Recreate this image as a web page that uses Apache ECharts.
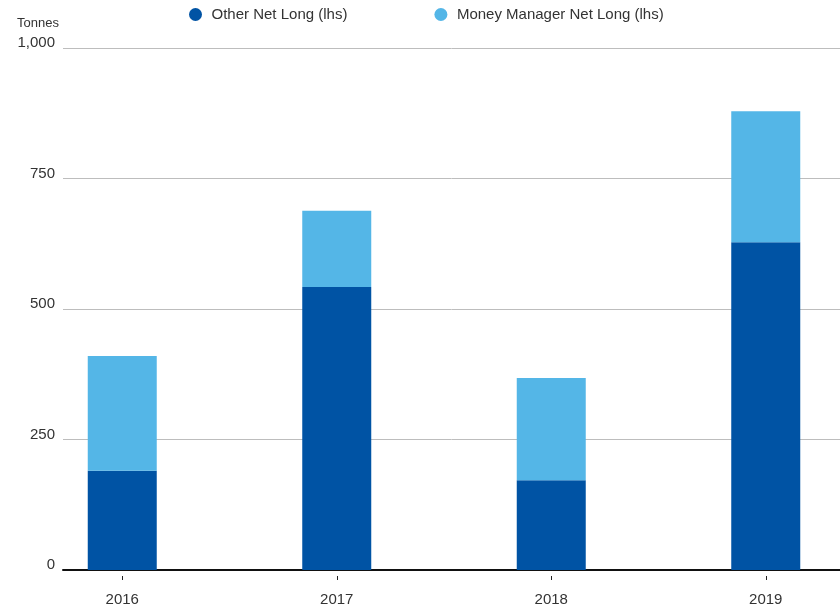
<!DOCTYPE html>
<html>
<head>
<meta charset="utf-8">
<script src="https://cdn.jsdelivr.net/npm/echarts@6/dist/echarts.min.js"></script>
<style>
  html, body { margin: 0; padding: 0; background: #fff; }
  #chart { width: 840px; height: 607px; }
</style>
</head>
<body>
<div id="chart"></div>
<script>
// data
const years = ["2016", "2017", "2018", "2019"];
const otherNetLong = [190, 542, 172, 628];
const moneyManagerNetLong = [220, 146, 196, 251];
const yTicks = [0, 250, 500, 750, 1000];

const chart = echarts.init(document.getElementById("chart"));
const font = "'Liberation Sans', Helvetica, Arial, sans-serif";

chart.setOption({
  animation: false,
  title: {
    text: "Tonnes",
    left: 12,
    top: 12,
    textStyle: { fontFamily: font, fontSize: 13, fontWeight: "normal", color: "#333" }
  },
  legend: {
    data: ["Other Net Long (lhs)", "Money Manager Net Long (lhs)"],
    left: 184,
    top: 2,
    icon: "circle",
    itemWidth: 22,
    itemHeight: 13,
    itemGap: 87,
    textStyle: { fontFamily: font, fontSize: 15, color: "#333" }
  },
  grid: [
    // axis frame with gridlines
    { left: 63, right: 0, top: 48, bottom: 37, outerBoundsMode: "none" },
    // bars, wider band so bars sit where they do in the picture
    { left: 15, right: -33, top: 48, bottom: 37, outerBoundsMode: "none" },
    // ticks and year labels, a little below the axis line
    { left: 15, right: -33, top: 560, bottom: 31, outerBoundsMode: "none" }
  ],
  xAxis: [
    {
      type: "category",
      gridIndex: 0,
      data: years,
      axisLine: { lineStyle: { color: "#111", width: 2 } },
      axisTick: { show: false },
      axisLabel: { show: false }
    },
    {
      type: "category",
      gridIndex: 1,
      data: years,
      show: false
    },
    {
      type: "category",
      gridIndex: 2,
      data: years,
      axisLine: { show: false },
      axisTick: { show: true, alignWithLabel: true, length: 4, lineStyle: { color: "#222", width: 1 } },
      axisLabel: { margin: 16, fontFamily: font, fontSize: 15, color: "#333" }
    }
  ],
  yAxis: [
    {
      type: "value",
      gridIndex: 0,
      min: 0,
      max: 1000,
      interval: 250,
      axisLine: { show: false },
      axisTick: { show: false },
      splitLine: { lineStyle: { color: "#bdbdbd", width: 1 } },
      axisLabel: {
        margin: 8,
        verticalAlign: "bottom",
        lineHeight: 10,
        fontFamily: font,
        fontSize: 15,
        color: "#333",
        formatter: v => yTicks.includes(v) ? v.toLocaleString("en-US") : ""
      }
    },
    { type: "value", gridIndex: 1, min: 0, max: 1000, show: false },
    { type: "value", gridIndex: 2, show: false }
  ],
  series: [
    {
      name: "Other Net Long (lhs)",
      type: "bar",
      stack: "total",
      xAxisIndex: 1,
      yAxisIndex: 1,
      barWidth: 69,
      itemStyle: { color: "#0053A4" },
      data: otherNetLong
    },
    {
      name: "Money Manager Net Long (lhs)",
      type: "bar",
      stack: "total",
      xAxisIndex: 1,
      yAxisIndex: 1,
      barWidth: 69,
      itemStyle: { color: "#54B6E7" },
      data: moneyManagerNetLong
    }
  ]
});
</script>
</body>
</html>
